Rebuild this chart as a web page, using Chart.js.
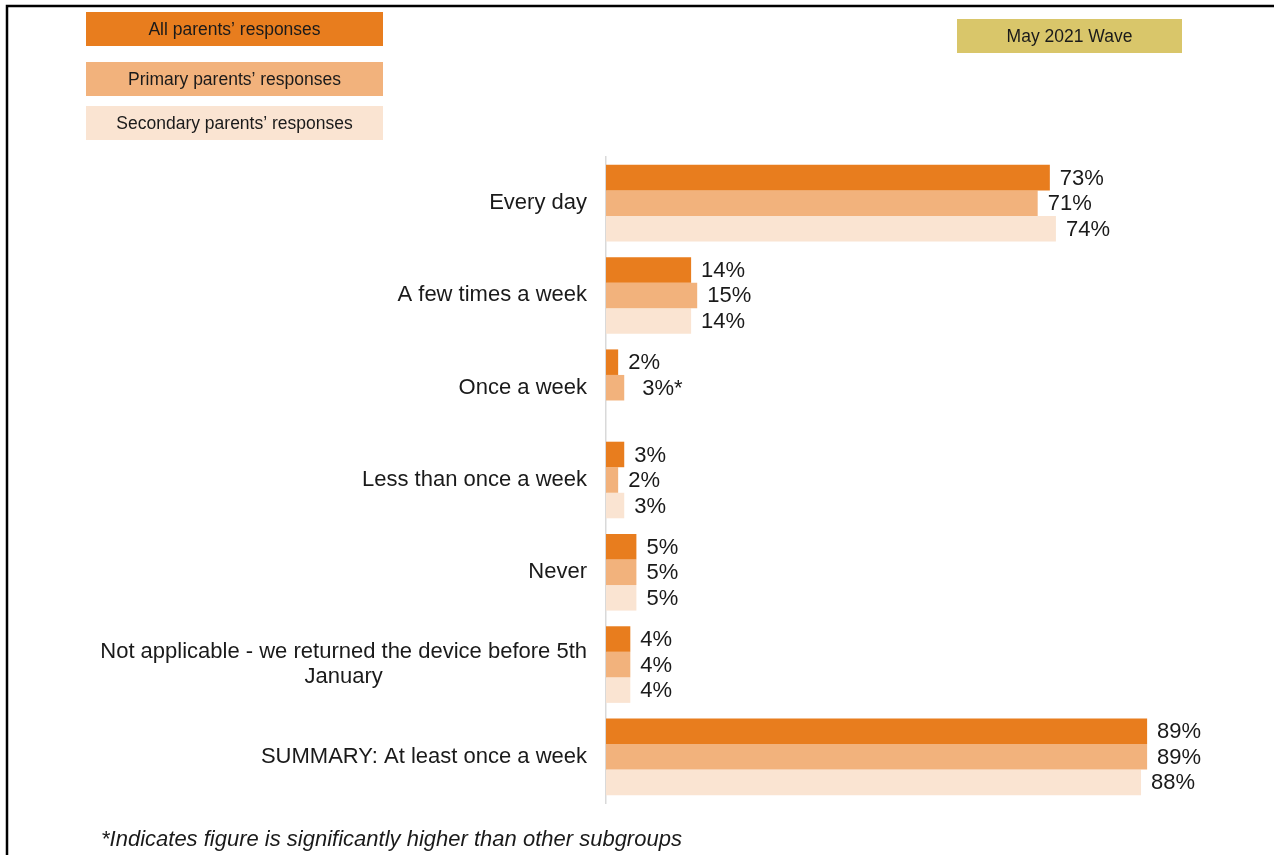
<!DOCTYPE html>
<html>
<head>
<meta charset="utf-8">
<script src="https://cdn.jsdelivr.net/npm/chart.js@4"></script>
<style>
  html, body { margin: 0; padding: 0; background: #fff; }
  #wrap { position: relative; width: 1274px; height: 855px; }
</style>
</head>
<body>
<div id="wrap"><canvas id="freqChart" width="1274" height="855"></canvas></div>
<script>
const categories = [
  "Every day",
  "A few times a week",
  "Once a week",
  "Less than once a week",
  "Never",
  ["Not applicable - we returned the device before 5th", "January"],
  "SUMMARY: At least once a week"
];
const allParents = [73, 14, 2, 3, 5, 4, 89];
const primaryParents = [71, 15, 3, 2, 5, 4, 89];
const secondaryParents = [74, 14, null, 3, 5, 4, 88];
// significantly higher than the other subgroups
const primarySig = [false, false, true, false, false, false, false];

const seriesNames = ["All parents\u2019 responses", "Primary parents\u2019 responses", "Secondary parents\u2019 responses"];
const seriesColours = ["#E87D1E", "#F2B27C", "#FAE4D2"];
const waveLabel = "May 2021 Wave";
const footnote = "*Indicates figure is significantly higher than other subgroups";

const FONT = "'Liberation Sans', Arial, sans-serif";
Chart.defaults.font.family = FONT;
Chart.defaults.color = "#1a1a1a";

// frame, legend boxes, wave badge and footnote
const decorations = {
  id: "decorations",
  beforeDraw(chart) {
    const ctx = chart.ctx;
    ctx.save();
    ctx.fillStyle = "#fff";
    ctx.fillRect(0, 0, chart.width, chart.height);
    ctx.strokeStyle = "#000";
    ctx.lineWidth = 2.5;
    ctx.beginPath();
    ctx.moveTo(7, chart.height);
    ctx.lineTo(7, 6);
    ctx.lineTo(chart.width, 6);
    ctx.stroke();
    ctx.restore();
  },
  afterDraw(chart) {
    const ctx = chart.ctx;
    ctx.save();
    const boxes = [[12, 34], [62, 34], [106, 34]];
    ctx.font = "17.5px " + FONT;
    ctx.textAlign = "center";
    ctx.textBaseline = "middle";
    chart.data.datasets.forEach((ds, i) => {
      const [y, h] = boxes[i];
      ctx.fillStyle = ds.backgroundColor;
      ctx.fillRect(86, y, 297, h);
      ctx.fillStyle = "#1a1a1a";
      ctx.fillText(ds.label, 86 + 297 / 2, y + h / 2 + 1);
    });
    ctx.fillStyle = "#D9C66A";
    ctx.fillRect(957, 19, 225, 34);
    ctx.fillStyle = "#1a1a1a";
    ctx.fillText(waveLabel, 957 + 225 / 2, 37);

    ctx.font = "italic 22px " + FONT;
    ctx.textAlign = "left";
    ctx.fillText(footnote, 101, 840);

    // category labels, right aligned against the axis
    const yScale = chart.scales.y;
    ctx.font = "22px " + FONT;
    const right = chart.chartArea.left - 19;
    categories.forEach((cat, i) => {
      const lines = Array.isArray(cat) ? cat : [cat];
      const widths = lines.map(l => ctx.measureText(l).width);
      const maxW = Math.max(...widths);
      const cy = yScale.getPixelForValue(i);
      const lh = 25;
      lines.forEach((l, j) => {
        const ly = cy + (j - (lines.length - 1) / 2) * lh;
        ctx.textAlign = "center";
        ctx.fillText(l, right - maxW / 2, ly);
      });
    });

    // value labels at bar ends
    ctx.font = "22px " + FONT;
    ctx.textAlign = "left";
    chart.data.datasets.forEach((ds, di) => {
      chart.getDatasetMeta(di).data.forEach((bar, i) => {
        const v = ds.data[i];
        if (v === null || v === undefined) return;
        const star = di === 1 && primarySig[i];
        ctx.fillText(v + "%" + (star ? "*" : ""), bar.x + (star ? 18 : 10), bar.y + 1);
      });
    });
    ctx.restore();
  }
};

new Chart(document.getElementById("freqChart"), {
  type: "bar",
  data: {
    labels: categories,
    datasets: [
      { label: seriesNames[0], data: allParents, backgroundColor: seriesColours[0] },
      { label: seriesNames[1], data: primaryParents, backgroundColor: seriesColours[1] },
      { label: seriesNames[2], data: secondaryParents, backgroundColor: seriesColours[2] }
    ]
  },
  options: {
    indexAxis: "y",
    responsive: false,
    animation: false,
    layout: { padding: { left: 0, right: 60, top: 157, bottom: 52 } },
    datasets: { bar: { categoryPercentage: 0.83, barPercentage: 1.0, borderWidth: 0 } },
    scales: {
      x: { min: 0, max: 100, display: false },
      y: {
        grid: { display: false },
        border: { display: true, color: "#d9d9d9", width: 1.5 },
        ticks: { display: false },
        afterFit(scale) { scale.width = 606; }
      }
    },
    plugins: { legend: { display: false }, tooltip: { enabled: false } }
  },
  plugins: [decorations]
});
</script>
</body>
</html>
